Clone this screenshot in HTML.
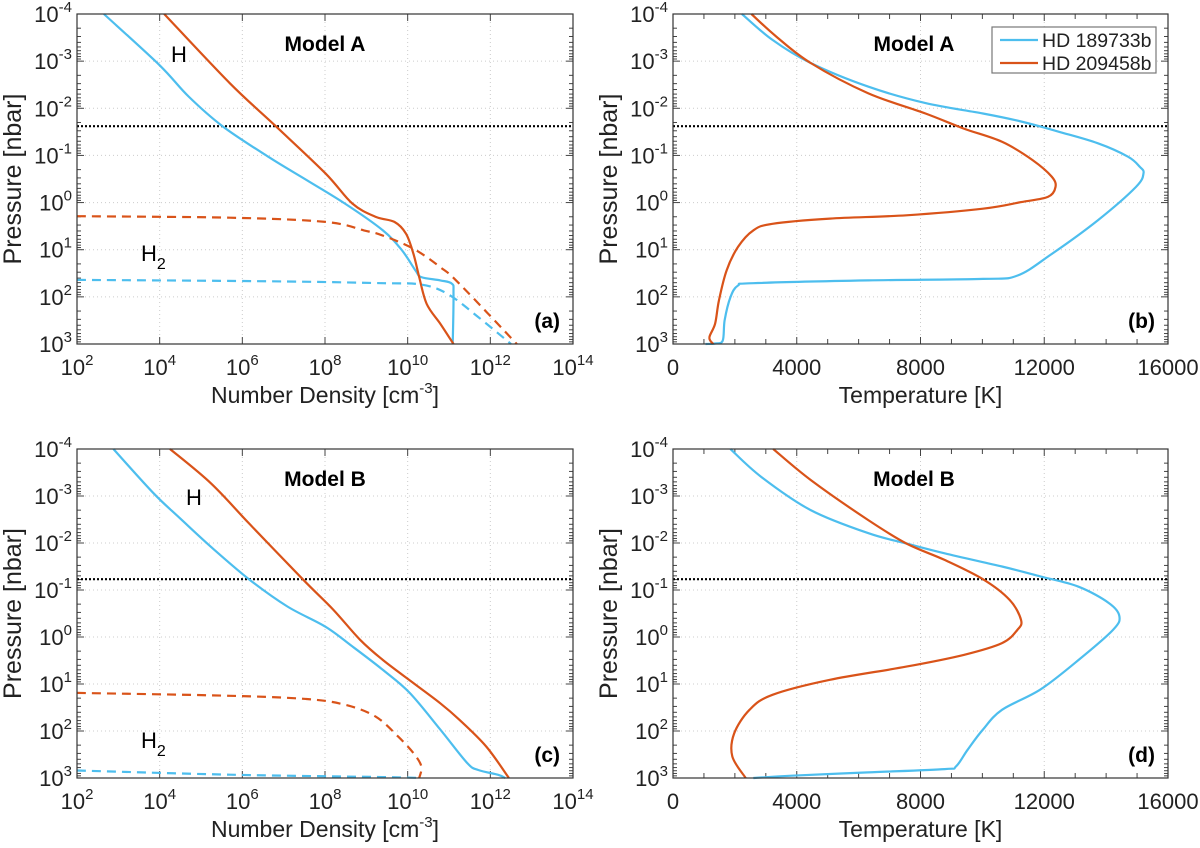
<!DOCTYPE html>
<html><head><meta charset="utf-8"><style>
body{margin:0;background:#fff}
svg{display:block;font-family:"Liberation Sans",sans-serif}
</style></head><body>
<svg id="fig" width="1200" height="848" viewBox="0 0 1200 848"></svg>
<script>
// ---- data (log10 values for density & pressure) ----
const aBlueH_n=[2.65,3.99,4.7,5.52,6.63,7.55,8.48,9.4,9.86,10.19,10.33,10.79,11.07,11.11,11.09];
const aBlueH_p=[-4,-2.92,-2.25,-1.62,-0.97,-0.48,0.02,0.59,1.01,1.44,1.58,1.65,1.72,1.94,3.0];
const aRedH_n=[4.11,5.7,6.81,8.01,8.66,9.22,9.68,9.96,10.14,10.28,10.46,10.79,11.11];
const aRedH_p=[-4,-2.53,-1.62,-0.62,0.02,0.3,0.41,0.66,1.09,1.58,2.15,2.57,3.0];
const aRedH2_n=[2,5.7,8.01,8.94,9.4,10.14,10.79,11.25,12.64];
const aRedH2_p=[0.29,0.32,0.41,0.59,0.7,0.98,1.37,1.72,3.0];
const aBlueH2_n=[2,6.63,9.4,10.33,10.97,11.71,12.5];
const aBlueH2_p=[1.64,1.67,1.71,1.74,1.94,2.43,3.0];
const bBlue_T=[2226,3215,4451,6306,8161,10016,11252,12489,13725,14714,15085,15209,14961,13725,12241,11128,10016,6306,2597,2102,1855,1669,1607,1360,1051];
const bBlue_p=[-4,-3.45,-2.96,-2.46,-2.11,-1.89,-1.72,-1.5,-1.26,-0.97,-0.76,-0.62,-0.33,0.38,1.09,1.55,1.62,1.65,1.71,1.76,2.01,2.5,2.93,2.99,3];
const bRed_T=[2535,3339,4451,6306,8161,9398,10634,11623,12241,12365,12118,11252,10016,7543,5070,3215,2597,2102,1731,1484,1360,1175,1298];
const bRed_p=[-4,-3.52,-2.96,-2.32,-1.89,-1.57,-1.29,-0.9,-0.55,-0.33,-0.12,-0.01,0.13,0.27,0.34,0.45,0.59,0.94,1.44,2.08,2.57,2.86,3];
const cBlueH_n=[2.88,3.85,4.5,5.24,6.16,7.09,8.01,8.66,9.4,10.05,10.79,11.44,11.71,12.18,12.36];
const cBlueH_p=[-4,-3.06,-2.52,-1.92,-1.23,-0.65,-0.22,0.2,0.7,1.19,1.97,2.68,2.83,2.93,3];
const cRedH_n=[4.25,5.24,6.16,7.46,8.2,8.85,9.4,10.14,10.79,11.25,11.9,12.45];
const cRedH_p=[-4,-3.27,-2.42,-1.23,-0.58,0.06,0.49,0.98,1.41,1.76,2.33,3];
const cRedH2_n=[2,5.7,7.55,8.48,9.22,9.77,10.14,10.33,10.28];
const cRedH2_p=[1.19,1.25,1.32,1.44,1.69,2.12,2.47,2.75,3];
const cBlueH2_n=[2,5.7,9.4,10.33];
const cBlueH2_p=[2.84,2.93,2.98,3];
const dBlue_T=[1855,2844,4451,6306,7543,8779,10634,11871,13107,14096,14430,14220,13107,11871,10634,10016,9521,9150,8779,6306,3833,2597];
const dBlue_p=[-4,-3.41,-2.7,-2.21,-1.99,-1.78,-1.5,-1.29,-1.07,-0.72,-0.44,-0.15,0.49,1.12,1.55,1.97,2.4,2.75,2.81,2.88,2.95,3];
const dRed_T=[3240,4451,6306,7543,8779,10016,10881,11252,11128,10634,9398,7543,5070,3215,2473,1978,1917,2349];
const dRed_p=[-4,-3.34,-2.49,-1.99,-1.64,-1.23,-0.79,-0.36,-0.15,0.13,0.38,0.63,0.91,1.23,1.55,2.05,2.54,3];
const dottedP=[-1.62,-1.62,-1.23,-1.23];
const yTicks=[-4,-3,-2,-1,0,1,2,3];
const xLogTicks=[2,4,6,8,10,12,14];
const xTempTicks=[0,4000,8000,12000,16000];
const legendLabels=["HD 189733b","HD 209458b"];

const NS="http://www.w3.org/2000/svg";
const svg=document.getElementById('fig');
const BLUE="#4DBEEE",RED="#D95319";
function el(tag,attrs,parent){const e=document.createElementNS(NS,tag);for(const k in attrs)e.setAttribute(k,attrs[k]);(parent||svg).appendChild(e);return e;}
function smooth(pts){let d="M"+pts[0][0].toFixed(1)+","+pts[0][1].toFixed(1);
 for(let i=0;i<pts.length-1;i++){const p0=pts[Math.max(0,i-1)],p1=pts[i],p2=pts[i+1],p3=pts[Math.min(pts.length-1,i+2)];
  const c1=[p1[0]+(p2[0]-p0[0])/6,p1[1]+(p2[1]-p0[1])/6],c2=[p2[0]-(p3[0]-p1[0])/6,p2[1]-(p3[1]-p1[1])/6];
  d+=" C"+c1[0].toFixed(1)+","+c1[1].toFixed(1)+" "+c2[0].toFixed(1)+","+c2[1].toFixed(1)+" "+p2[0].toFixed(1)+","+p2[1].toFixed(1);}
 return d;}
function pow10(g,x,y,exp,anchor,name){
 const t=el('text',{x:x,y:y,'font-size':22,'text-anchor':anchor,fill:'#222'},g);
 
 
 t.appendChild(document.createTextNode('10'));
 const s=el('tspan',{'font-size':15,dy:-10},t);s.textContent=String(exp);return t;}

const panels=[
 {id:'a',L:77,R:573,T:14,B:344,log:true,model:'Model A',dot:0},
 {id:'b',L:673,R:1168,T:14,B:344,log:false,model:'Model A',dot:1},
 {id:'c',L:77,R:573,T:449,B:778,log:true,model:'Model B',dot:2},
 {id:'d',L:673,R:1168,T:449,B:778,log:false,model:'Model B',dot:3}];
const series={
 a:[[aBlueH_n,aBlueH_p,BLUE,false,'blue-h'],[aRedH_n,aRedH_p,RED,false,'red-h'],[aRedH2_n,aRedH2_p,RED,true,'red-h2'],[aBlueH2_n,aBlueH2_p,BLUE,true,'blue-h2']],
 b:[[bBlue_T,bBlue_p,BLUE,false,'hd189733b-temp'],[bRed_T,bRed_p,RED,false,'hd209458b-temp']],
 c:[[cBlueH_n,cBlueH_p,BLUE,false,'blue-h'],[cRedH_n,cRedH_p,RED,false,'red-h'],[cRedH2_n,cRedH2_p,RED,true,'red-h2'],[cBlueH2_n,cBlueH2_p,BLUE,true,'blue-h2']],
 d:[[dBlue_T,dBlue_p,BLUE,false,'hd189733b-temp'],[dRed_T,dRed_p,RED,false,'hd209458b-temp']]};

panels.forEach(P=>{
 const g=el('g',{});
 
 
 const ys=p=>P.T+(p+4)/7*(P.B-P.T);
 const xs=P.log?(v=>P.L+(v-2)/12*(P.R-P.L)):(v=>P.L+v/16000*(P.R-P.L));
 const xt=P.log?xLogTicks:xTempTicks;
 yTicks.forEach(t=>{if(t>-4&&t<3){const l=el('line',{x1:P.L,x2:P.R,y1:ys(t),y2:ys(t),stroke:'#ccc','stroke-width':1,'stroke-dasharray':'1,3'},g);}});
 xt.forEach((t,i)=>{if(i>0&&i<xt.length-1){const l=el('line',{x1:xs(t),x2:xs(t),y1:P.T,y2:P.B,stroke:'#ccc','stroke-width':1,'stroke-dasharray':'1,3'},g);}});
 for(let d=-4;d<3;d++){for(let k=1;k<10;k++){const y=ys(d+Math.log10(k));const len=k==1?7:4;
  el('line',{x1:P.L,x2:P.L+len,y1:y,y2:y,stroke:'#444','stroke-width':1},g);
  el('line',{x1:P.R,x2:P.R-len,y1:y,y2:y,stroke:'#444','stroke-width':1},g);}}
 if(P.log){for(let d=2;d<=14;d+=2){const x=xs(d);el('line',{x1:x,x2:x,y1:P.B,y2:P.B-7,stroke:'#444'},g);el('line',{x1:x,x2:x,y1:P.T,y2:P.T+7,stroke:'#444'},g);}}
 else{for(let v=0;v<=16000;v+=1000){const x=xs(v);const len=v%4000==0?7:5;el('line',{x1:x,x2:x,y1:P.B,y2:P.B-len,stroke:'#444'},g);el('line',{x1:x,x2:x,y1:P.T,y2:P.T+len,stroke:'#444'},g);}}
 yTicks.forEach(t=>pow10(g,P.L-5,ys(t)+8,t,'end','y-tick-label'));
 xt.forEach(t=>{if(P.log)pow10(g,xs(t),P.B+31,t,'middle','x-tick-label');else{const tx=el('text',{x:xs(t),y:P.B+31,'font-size':22,'text-anchor':'middle',fill:'#222'},g);tx.textContent=t;}});
 const dl=el('line',{x1:P.L,x2:P.R,y1:ys(dottedP[P.dot]),y2:ys(dottedP[P.dot]),stroke:'#000','stroke-width':2.2,'stroke-dasharray':'2,2'},g);
 
 series[P.id].forEach(s=>{const pts=s[0].map((v,i)=>[xs(v),ys(s[1][i])]);
  const path=el('path',{d:smooth(pts),fill:'none',stroke:s[2],'stroke-width':2.2,'stroke-dasharray':s[3]?'9,6':'none'},g);
  
  });
 const fr=el('rect',{x:P.L,y:P.T,width:P.R-P.L,height:P.B-P.T,fill:'none',stroke:'#333','stroke-width':1.2},g);
 
 const mt=el('text',{x:P.L+(P.log?248:241),y:P.T+37,'font-size':21,'font-weight':'bold','text-anchor':'middle'},g);mt.textContent=P.model;
 
 const pl=el('text',{x:P.R-13,y:P.B-16,'font-size':21,'font-weight':'bold','text-anchor':'end'},g);pl.textContent='('+P.id+')';
 
 const yt=el('text',{x:0,y:0,'font-size':25,'text-anchor':'middle',fill:'#222',transform:'translate('+(P.log?21:617)+','+((P.T+P.B)/2)+') rotate(-90)'},g);
 yt.textContent='Pressure [nbar]';
 const xtitle=el('text',{x:(P.L+P.R)/2,y:P.B+59,'font-size':23,'text-anchor':'middle',fill:'#222'},g);
 
 if(P.log){xtitle.appendChild(document.createTextNode('Number Density [cm'));const s=el('tspan',{'font-size':15,dy:-10},xtitle);s.textContent='-3';const s2=el('tspan',{dy:10},xtitle);s2.textContent=']';}
 else xtitle.textContent='Temperature [K]';
 if(P.log){
  const h=el('text',{x:P.L+(P.id=='a'?94:109),y:P.T+(P.id=='a'?48:56),'font-size':22},g);h.textContent='H';
  
  const h2=el('text',{x:P.L+64,y:P.T+(P.id=='a'?247:299),'font-size':22},g);h2.appendChild(document.createTextNode('H'));
  const sb=el('tspan',{'font-size':16,dy:8},h2);sb.textContent='2';
  
 }
});
const lg=el('g',{});


el('rect',{x:992,y:27,width:164,height:46,fill:'#fff',stroke:'#777','stroke-width':1.2},lg);
[BLUE,RED].forEach((c,i)=>{
 const ln=el('line',{x1:1000,x2:1038,y1:40+i*23,y2:40+i*23,stroke:c,'stroke-width':2.2},lg);
 
 const t=el('text',{x:1042,y:47+i*23,'font-size':19.5,fill:'#222'},lg);t.textContent=legendLabels[i];
 
});
</script>
</body></html>
